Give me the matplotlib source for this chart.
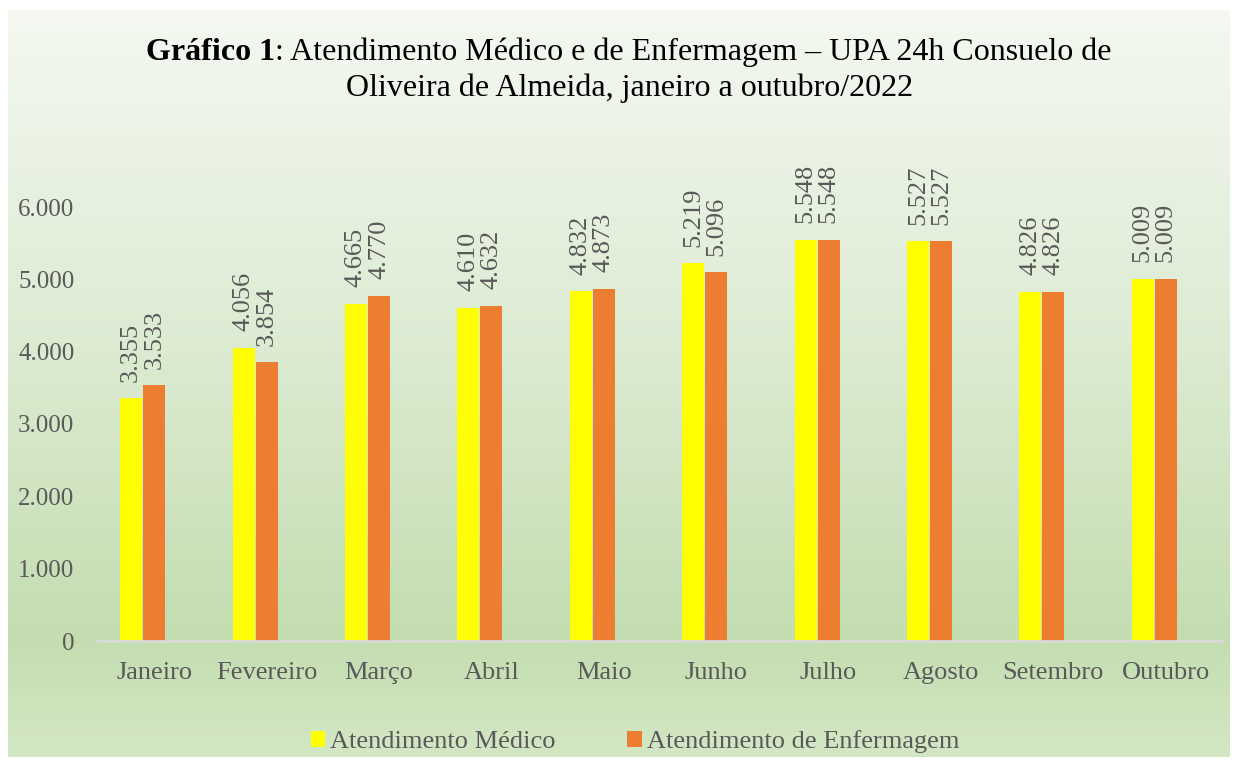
import matplotlib
matplotlib.use("Agg")
import matplotlib.pyplot as plt
import numpy as np
from matplotlib.colors import LinearSegmentedColormap

meses = ["Janeiro", "Fevereiro", "Março", "Abril", "Maio", "Junho",
         "Julho", "Agosto", "Setembro", "Outubro"]
medico = [3355, 4056, 4665, 4610, 4832, 5219, 5548, 5527, 4826, 5009]
enfermagem = [3533, 3854, 4770, 4632, 4873, 5096, 5548, 5527, 4826, 5009]
yticks = [0, 1000, 2000, 3000, 4000, 5000, 6000]

def fmt(v):
    return f"{v:,}".replace(",", ".")

plt.rcParams['font.family'] = ['Liberation Serif', 'DejaVu Serif']

W, H = 1238, 762
fig = plt.figure(figsize=(W/100, H/100), dpi=100)
fig.patch.set_facecolor("white")

# gradient background panel
bg = fig.add_axes([8/W, 5/H, 1222/W, 747/H])
cmap = LinearSegmentedColormap.from_list(
    "g", [(0.0, "#d3e7c4"), (0.16, "#c3ddb0"), (0.55, "#dcebd2"), (1.0, "#f4f8f1")])
grad = np.linspace(0, 1, 256).reshape(-1, 1)
bg.imshow(grad, aspect="auto", cmap=cmap, origin="lower", extent=[0, 1, 0, 1])
bg.set_axis_off()
bg.set_zorder(-10)

ax = fig.add_axes([98/W, (H-641)/H, 1124/W, 434/H])
ax.patch.set_alpha(0)
x = np.arange(len(meses))
w = 0.195
off_m, off_e = -0.205, 0.0
txtc = "#595959"
b1 = ax.bar(x + off_m, medico, w, color="#FFFF00", label="Atendimento Médico", zorder=3)
b2 = ax.bar(x + off_e, enfermagem, w, color="#ED7D31", label="Atendimento de Enfermagem", zorder=3)

for xs, vals in ((x + off_m, medico), (x + off_e, enfermagem)):
    for xi, v in zip(xs, vals):
        ax.annotate(fmt(v), (xi, v), xytext=(0, 12), textcoords="offset points",
                    rotation=90, ha="center", va="bottom", fontsize=19,
                    color=txtc, annotation_clip=False)

ax.set_xlim(-0.5, len(meses) - 0.5)
ax.set_ylim(0, 6000)
ax.set_yticks(yticks)
ax.set_yticklabels([fmt(v) for v in yticks], fontsize=18, color=txtc)
ax.set_xticks(x)
ax.set_xticklabels(meses, fontsize=19, color=txtc)
ax.tick_params(axis="y", length=0, pad=17)
ax.tick_params(axis="x", length=0, pad=15)
for s in ["top", "right", "left"]:
    ax.spines[s].set_visible(False)
ax.spines["bottom"].set_color("#d9d9d9")
ax.spines["bottom"].set_linewidth(2)
ax.spines["bottom"].set_zorder(4)

# title with mixed bold/regular
fig.canvas.draw()
r = fig.canvas.get_renderer()
y1 = H - 52
t1 = fig.text(0, y1/H, "Gráfico 1", fontsize=23, fontweight="bold", va="center", ha="left", color="black")
t2 = fig.text(0, y1/H, ": Atendimento Médico e de Enfermagem – UPA 24h Consuelo de",
              fontsize=23, va="center", ha="left", color="black")
w1 = t1.get_window_extent(r).width
w2 = t2.get_window_extent(r).width
start = 629 - (w1 + w2) / 2
t1.set_x(start / W)
t2.set_x((start + w1) / W)
fig.text(630/W, (H-88)/H, "Oliveira de Almeida, janeiro a outubro/2022", fontsize=23,
         va="center", ha="center", color="black")

leg = fig.legend(handles=[b1, b2], loc="center", bbox_to_anchor=(635/W, (H-742)/H),
                 ncol=2, frameon=False, fontsize=19, handlelength=0.55, handleheight=0.55,
                 handletextpad=0.2, columnspacing=2.7, labelcolor=txtc)

fig.savefig("out.png", dpi=100, facecolor="white")
